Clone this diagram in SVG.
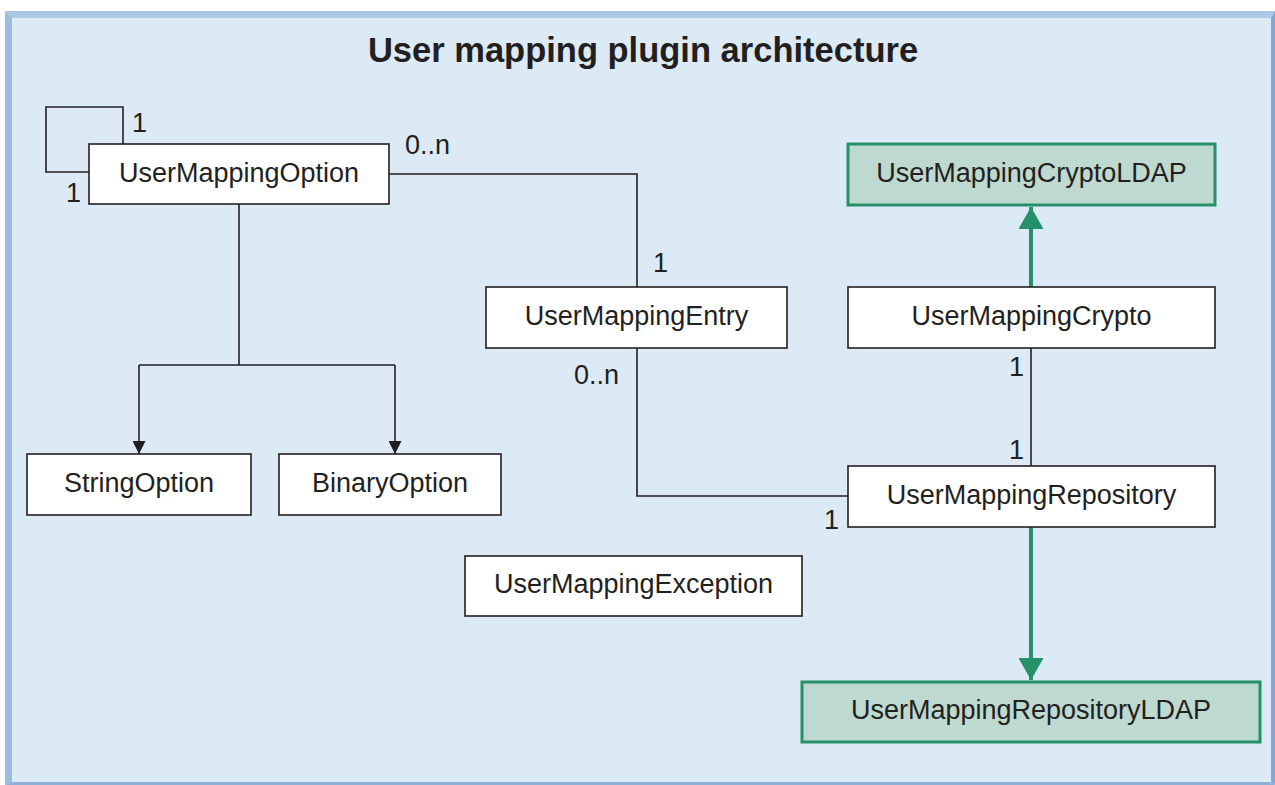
<svg xmlns="http://www.w3.org/2000/svg" width="1275" height="785" viewBox="0 0 1275 785">
  <style>
    .box { fill: #ffffff; stroke: #231f20; stroke-width: 1.6; }
    .ldap { fill: #bed9cf; stroke: #25906a; stroke-width: 3; }
    .lbl { font-family: "Liberation Sans", Arial, sans-serif; font-size: 27px; fill: #231f20; }
    .name { text-anchor: middle; }
    .title { font-family: "Liberation Sans", Arial, sans-serif; font-size: 34.5px; font-weight: bold; fill: #231f20; text-anchor: middle; }
    .line { fill: none; stroke: #231f20; stroke-width: 1.6; }
    .gline { fill: none; stroke: #25906a; stroke-width: 4; }
  </style>
  <defs>
    <marker id="arrBlack" markerUnits="userSpaceOnUse" markerWidth="13" markerHeight="13" refX="13" refY="6.5" orient="auto" viewBox="0 0 13 13">
      <path d="M0,0 L13,6.5 L0,13 Z" fill="#231f20"/>
    </marker>
    <marker id="arrGreen" markerUnits="userSpaceOnUse" markerWidth="22" markerHeight="25" refX="22" refY="12.5" orient="auto" viewBox="0 0 22 25">
      <path d="M0,0 L22,12.5 L0,25 Z" fill="#25906a"/>
    </marker>
  </defs>

  <g id="frame">
    <rect x="5" y="11" width="1270" height="774" fill="#dceaf6"/>
    <polygon points="5,11 1275,11 1271,18 12,18" fill="#abc8e4"/>
    <polygon points="5,11 12,18 12,782 5,785" fill="#9cbcdc"/>
    <polygon points="1275,11 1275,785 1271,782 1271,18" fill="#86a7d5"/>
    <polygon points="5,785 1275,785 1271,782 12,782" fill="#8eb0d8"/>
  </g>

  <text class="title" x="643" y="62">User mapping plugin architecture</text>

  <g id="connectors">
    <polyline class="line" points="123,144 123,107 46,107 46,172 89,172"/>
    <polyline class="line" points="389,174 637,174 637,287"/>
    <polyline class="line" points="239,204 239,365"/>
    <polyline class="line" points="139,365 395,365"/>
    <line class="line" x1="139" y1="365" x2="139" y2="454" marker-end="url(#arrBlack)"/>
    <line class="line" x1="395" y1="365" x2="395" y2="454" marker-end="url(#arrBlack)"/>
    <polyline class="line" points="637,348 637,496 848,496"/>
    <line class="line" x1="1031" y1="348" x2="1031" y2="466"/>
    <line class="gline" x1="1031" y1="287" x2="1031" y2="207" marker-end="url(#arrGreen)"/>
    <line class="gline" x1="1031" y1="527" x2="1031" y2="680" marker-end="url(#arrGreen)"/>
    <text class="lbl" x="132" y="132">1</text>
    <text class="lbl" x="66" y="202">1</text>
    <text class="lbl" x="405" y="154">0..n</text>
    <text class="lbl" x="653" y="272">1</text>
    <text class="lbl" x="574" y="384">0..n</text>
    <text class="lbl" x="1009" y="376">1</text>
    <text class="lbl" x="1009" y="459">1</text>
    <text class="lbl" x="824" y="529">1</text>
  </g>

  <g id="UserMappingOption">
    <rect class="box" x="89" y="144" width="300" height="60"/>
    <text class="lbl name" x="239" y="182">UserMappingOption</text>
  </g>
  <g id="UserMappingEntry">
    <rect class="box" x="486" y="287" width="301" height="61"/>
    <text class="lbl name" x="636.5" y="325">UserMappingEntry</text>
  </g>
  <g id="UserMappingCryptoLDAP">
    <rect class="ldap" x="848" y="144" width="367" height="61"/>
    <text class="lbl name" x="1031.5" y="182">UserMappingCryptoLDAP</text>
  </g>
  <g id="UserMappingCrypto">
    <rect class="box" x="848" y="287" width="367" height="61"/>
    <text class="lbl name" x="1031.5" y="325">UserMappingCrypto</text>
  </g>
  <g id="StringOption">
    <rect class="box" x="27" y="454" width="224" height="61"/>
    <text class="lbl name" x="139" y="492">StringOption</text>
  </g>
  <g id="BinaryOption">
    <rect class="box" x="279" y="454" width="222" height="61"/>
    <text class="lbl name" x="390" y="492">BinaryOption</text>
  </g>
  <g id="UserMappingRepository">
    <rect class="box" x="848" y="466" width="367" height="61"/>
    <text class="lbl name" x="1031.5" y="504">UserMappingRepository</text>
  </g>
  <g id="UserMappingException">
    <rect class="box" x="465" y="556" width="337" height="60"/>
    <text class="lbl name" x="633.5" y="593">UserMappingException</text>
  </g>
  <g id="UserMappingRepositoryLDAP">
    <rect class="ldap" x="802" y="682" width="458" height="60"/>
    <text class="lbl name" x="1031" y="719">UserMappingRepositoryLDAP</text>
  </g>
</svg>
